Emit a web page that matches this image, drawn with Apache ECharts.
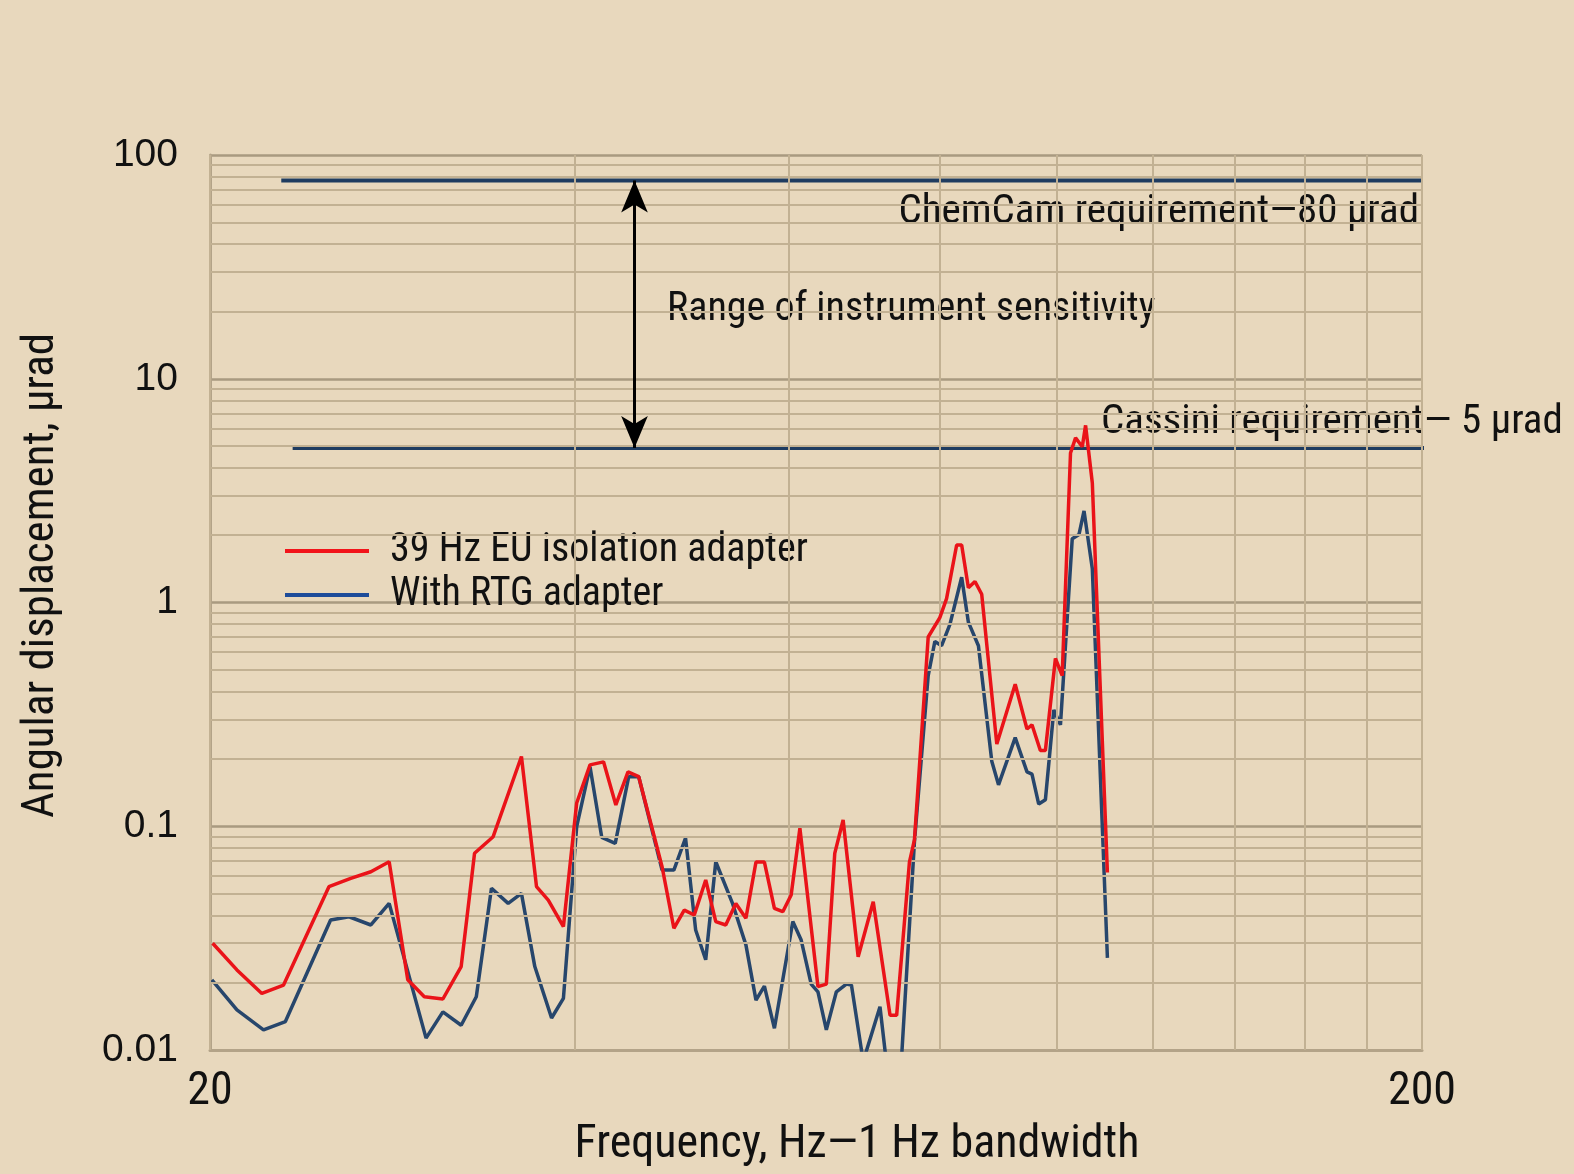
<!DOCTYPE html>
<html>
<head>
<meta charset="utf-8">
<title>Angular displacement vs frequency</title>
<script src="https://cdn.jsdelivr.net/npm/echarts@6/dist/echarts.min.js"></script>
<style>
  html, body { margin: 0; padding: 0; background: #e8d8bd; }
  #main { width: 1574px; height: 1174px; }
</style>
</head>
<body>
<div id="main"></div>
<script>
  // values (Hz, µrad)
  const redFreq = [20.1, 21.05, 22.07, 23.0, 25.07, 26.13, 27.15, 28.11, 29.12, 30.05,
    31.13, 32.23, 33.06, 34.25, 36.14, 37.19, 38.03, 39.14, 40.14, 41.17,
    42.24, 43.24, 44.25, 45.16, 47.21, 48.28, 49.24, 50.19, 51.29, 52.28,
    53.28, 54.31, 55.36, 56.43, 57.34, 58.44, 59.38, 60.33, 61.34, 63.48,
    64.5, 65.54, 66.59, 68.52, 70.51, 72.8, 73.72, 75.53, 76.25, 78.27,
    80.02, 81.05, 82.62, 83.41, 84.48, 85.55, 86.65, 89.17, 92.34, 94.43,
    95.33, 96.86, 97.79, 99.67, 100.96, 102.57, 103.56, 104.89, 105.55, 106.91,
    110.02];
  const redDisp = [0.030, 0.0228, 0.0179, 0.0195, 0.0537, 0.0585, 0.0626, 0.0694, 0.0206, 0.0173,
    0.0169, 0.0236, 0.0757, 0.0898, 0.205, 0.0537, 0.0468, 0.0356, 0.127, 0.188,
    0.194, 0.1245, 0.175, 0.1665, 0.0659, 0.035, 0.0422, 0.0401, 0.0575, 0.0375,
    0.0362, 0.0452, 0.0388, 0.0692, 0.0692, 0.043, 0.0415, 0.0493, 0.0979, 0.0192,
    0.0197, 0.0757, 0.1066, 0.0261, 0.046, 0.0143, 0.0143, 0.0692, 0.0868, 0.701,
    0.856, 1.041, 1.807, 1.807, 1.163, 1.241, 1.088, 0.233, 0.431, 0.272,
    0.284, 0.218, 0.218, 0.562, 0.471, 4.66, 5.44, 4.97, 6.19, 3.42,
    0.0621];

  const blueFreq = [20.07, 21.05, 22.14, 23.08, 25.15, 26.05, 27.15, 28.11, 30.15, 31.13,
    32.23, 33.17, 34.14, 35.24, 36.14, 37.07, 38.27, 39.14, 40.14, 41.17,
    42.1, 43.19, 44.31, 45.16, 47.21, 48.28, 49.36, 50.32, 51.29, 52.28,
    53.97, 55.36, 56.43, 57.34, 58.44, 60.52, 61.49, 62.67, 63.48, 64.5,
    65.74, 67.0, 67.65, 69.18, 71.42, 72.28, 74.38, 76.25, 78.27, 79.27,
    80.29, 81.57, 83.41, 84.48, 86.11, 88.32, 89.46, 92.34, 94.43, 95.33,
    96.56, 97.79, 99.37, 100.63, 102.91, 104.24, 105.24, 106.91, 110.02];
  const blueDisp = [0.0206, 0.0151, 0.0123, 0.0134, 0.0381, 0.0394, 0.0362, 0.0452, 0.0113, 0.0148,
    0.0129, 0.0173, 0.0528, 0.0452, 0.0501, 0.0236, 0.0139, 0.017, 0.0995, 0.1845,
    0.0891, 0.0839, 0.1665, 0.1665, 0.0637, 0.0637, 0.0886, 0.0344, 0.0253, 0.0694,
    0.0452, 0.0295, 0.0167, 0.0193, 0.0125, 0.0375, 0.031, 0.0197, 0.0182, 0.0123,
    0.0182, 0.0197, 0.0195, 0.0089, 0.0156, 0.0089, 0.0089, 0.085, 0.471, 0.67,
    0.641, 0.799, 1.297, 0.817, 0.641, 0.1954, 0.1532, 0.249, 0.175, 0.171,
    0.1257, 0.1314, 0.331, 0.284, 1.928, 2.015, 2.567, 1.416, 0.0258];

  // requirement levels (as drawn) and the sensitivity arrow
  const chemCamLine = [[22.9, 77], [200, 77]];
  const cassiniLine = [[23.4, 4.9], [204.6, 4.9]];
  const sensitivityArrow = [[44.8, 77], [44.8, 4.9]];

  const freqGrid = [20, 40, 60, 80, 100, 120, 140, 160, 180, 200];
  const minorGrid = [0.02, 0.03, 0.04, 0.05, 0.06, 0.07, 0.08, 0.09,
    0.2, 0.3, 0.4, 0.5, 0.6, 0.7, 0.8, 0.9,
    2, 3, 4, 5, 6, 7, 8, 9,
    20, 30, 40, 50, 60, 70, 80, 90];
  const xLabels = [20, 200];

  const NARROW = "'Liberation Sans Narrow', 'Roboto Condensed', 'DejaVu Sans Condensed', sans-serif";
  const redName = '39 Hz EU isolation adapter';
  const blueName = 'With RTG adapter';

  function zip(xs, ys) {
    return xs.map((x, i) => [x, ys[i]]);
  }

  const chart = echarts.init(document.getElementById('main'));

  const option = {
    backgroundColor: '#e8d8bd',
    animation: false,
    grid: { left: 210, right: 152, top: 155, bottom: 124, outerBoundsMode: 'none', containLabel: false },
    xAxis: {
      type: 'log',
      logBase: 10,
      min: 20,
      max: 200,
      name: 'Frequency, Hz\u20141 Hz bandwidth',
      nameLocation: 'middle',
      nameGap: 72,
      nameTextStyle: { fontFamily: NARROW, fontSize: 46, color: '#111', padding: [0, 0, 0, 82] },
      axisLine: { lineStyle: { color: '#b3a388', width: 3 } },
      axisTick: { show: false },
      splitLine: { show: false },
      axisLabel: {
        margin: 19,
        fontFamily: NARROW,
        fontSize: 46,
        color: '#111',
        formatter: v => (xLabels.indexOf(Math.round(v)) >= 0 ? String(Math.round(v)) : '')
      }
    },
    yAxis: {
      type: 'log',
      logBase: 10,
      min: 0.01,
      max: 100,
      name: 'Angular displacement, \u00b5rad',
      nameLocation: 'middle',
      nameGap: 146,
      nameTextStyle: { fontFamily: NARROW, fontSize: 45, color: '#111', padding: [0, 0, 0, 54] },
      axisLine: { show: true, lineStyle: { color: '#b3a388', width: 3 } },
      axisTick: { show: false },
      splitLine: { show: true, lineStyle: { color: '#a99a80', width: 2.5 } },
      axisLabel: {
        margin: 32,
        fontFamily: "'Liberation Sans', Arial, sans-serif",
        fontSize: 39,
        color: '#111'
      }
    },
    legend: {
      left: 280,
      top: 524,
      orient: 'vertical',
      icon: 'rect',
      itemWidth: 84,
      itemHeight: 4,
      itemGap: 0,
      selectedMode: false,
      textStyle: { fontFamily: NARROW, fontSize: 40, color: '#111', lineHeight: 44, padding: [0, 0, 0, 16] },
      data: [
        { name: redName, itemStyle: { color: '#f2141a' } },
        { name: blueName, itemStyle: { color: '#1d4c9a' } }
      ]
    },
    graphic: [
      {
        type: 'text', right: 155, top: 192,
        style: { text: 'ChemCam requirement\u201480 \u00b5rad', font: '41px ' + NARROW, fill: '#111' }
      },
      {
        type: 'text', left: 667, top: 290,
        style: { text: 'Range of instrument sensitivity', font: '40px ' + NARROW, fill: '#111' }
      },
      {
        type: 'text', left: 1101, top: 402,
        style: { text: 'Cassini requirement\u2014 5 \u00b5rad', font: '41px ' + NARROW, fill: '#111' }
      }
    ],
    series: [
      {
        name: 'grid',
        type: 'line',
        data: [],
        z: 1,
        silent: true,
        markLine: {
          silent: true,
          symbol: 'none',
          label: { show: false },
          animation: false,
          lineStyle: { color: '#c2b193', width: 2, type: 'solid' },
          data: freqGrid.map(f => ({ xAxis: f })).concat(minorGrid.map(v => ({ yAxis: v })))
        }
      },
      {
        name: 'ChemCam requirement',
        type: 'line',
        data: chemCamLine,
        clip: false,
        symbol: 'none',
        silent: true,
        z: 3,
        lineStyle: { color: '#1f3c60', width: 4 },
        markLine: {
          silent: true,
          symbol: ['arrow', 'arrow'],
          symbolSize: [20, 32],
          label: { show: false },
          animation: false,
          lineStyle: { color: '#000', width: 3, type: 'solid' },
          data: [[{ coord: sensitivityArrow[0] }, { coord: sensitivityArrow[1] }]]
        }
      },
      {
        name: 'Cassini requirement',
        type: 'line',
        data: cassiniLine,
        clip: false,
        symbol: 'none',
        silent: true,
        z: 3,
        lineStyle: { color: '#1f3c60', width: 4 }
      },
      {
        name: blueName,
        type: 'line',
        data: zip(blueFreq, blueDisp),
        symbol: 'none',
        z: 4,
        lineStyle: { color: '#27466c', width: 3.5 },
        itemStyle: { color: '#27466c' }
      },
      {
        name: redName,
        type: 'line',
        data: zip(redFreq, redDisp),
        symbol: 'none',
        z: 5,
        lineStyle: { color: '#ea1319', width: 3.5 },
        itemStyle: { color: '#ea1319' }
      }
    ]
  };

  chart.setOption(option);
</script>
</body>
</html>
